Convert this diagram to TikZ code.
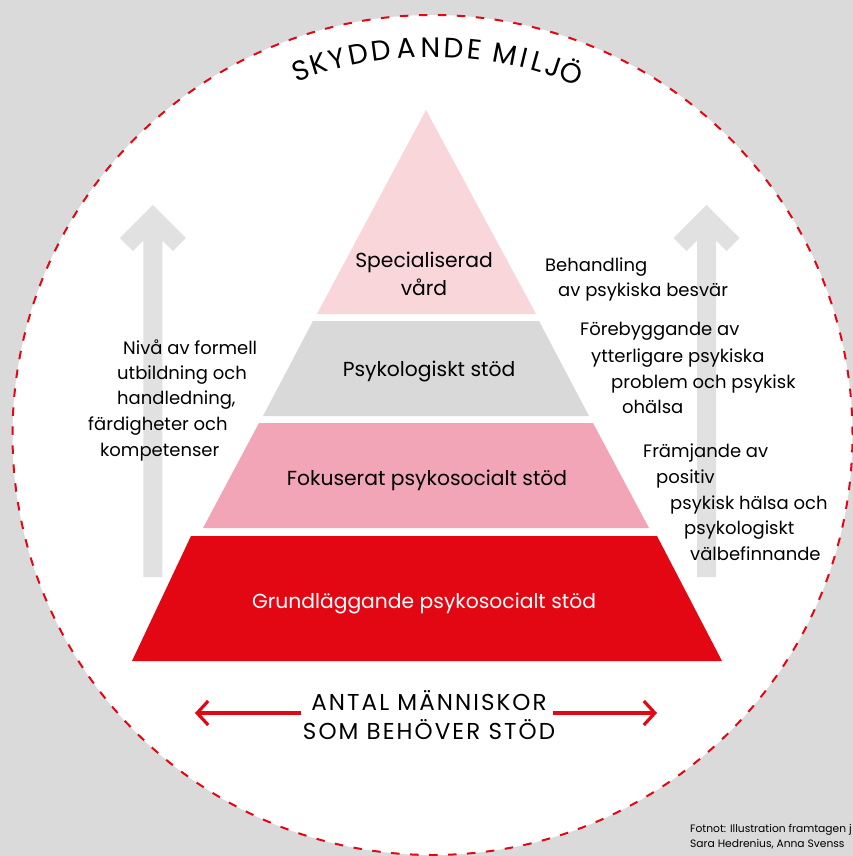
\documentclass[tikz,border=0pt]{standalone}
\usepackage{fontspec}
\setmainfont{Poppins}
\usetikzlibrary{arrows.meta}
\definecolor{bg}{HTML}{DADADA}
\definecolor{rd}{HTML}{E30613}
\definecolor{pkone}{HTML}{F9D6DA}
\definecolor{grlayer}{HTML}{D9D9D9}
\definecolor{pktwo}{HTML}{F2A5B6}
\definecolor{arrgray}{HTML}{E1E1E1}
\newcommand{\fs}[1]{\fontsize{#1}{#1}\selectfont}
\tikzset{
  layerlabel/.style={anchor=base, inner sep=0pt, font=\fs{20.3}},
  sidetext/.style={anchor=base west, inner sep=0pt, font=\fs{18}},
  titleletter/.style={anchor=base, inner sep=0pt, font=\fs{28}},
  redarrow/.style={rd, line width=3.2pt, -{Straight Barb[length=11pt,width=24pt]}},
}
\begin{document}
\begin{tikzpicture}[x=1pt,y=1pt]
\useasboundingbox (0,0) rectangle (853,-856);
\fill[bg] (0,0) rectangle (853,-856);
\coordinate (cc) at (432.5,-435);
\draw[rd, line width=2pt, dash pattern=on 8.5pt off 10.5pt, fill=white] (cc) circle[radius=420];

% gray arrows
\foreach \c in {152.8,706.5}{
  \fill[arrgray] (\c,-205) -- (\c+33,-238) -- (\c+20,-251) -- (\c+9.5,-240.5) -- (\c+9.5,-577)
    -- (\c-9.5,-577) -- (\c-9.5,-240.5) -- (\c-20,-251) -- (\c-33,-238) -- cycle;
}

% pyramid layers
\fill[pkone] (426,-110) -- (536,-314) -- (317,-314) -- cycle;
\fill[grlayer] (313,-321) -- (539,-321) -- (589,-416) -- (263,-416) -- cycle;
\fill[pktwo] (259,-423) -- (593,-423) -- (649,-528) -- (203,-528) -- cycle;
\fill[rd] (191,-536) -- (657,-536) -- (722,-661) -- (132,-661) -- cycle;

% layer labels
\node[layerlabel] (spec1) at (424,-267) {Specialiserad};
\node[layerlabel] (spec2) at (424,-295) {vård};
\node[layerlabel] (psy) at (429,-376) {Psykologiskt stöd};
\node[layerlabel] (fok) at (427,-485) {Fokuserat psykosocialt stöd};
\node[layerlabel, text=white] (grund) at (424,-608) {Grundläggande psykosocialt stöd};

% right texts
\node[sidetext] (ra1) at (545,-271) {Behandling};
\node[sidetext] (ra2) at (558,-296) {av psykiska besvär};
\node[sidetext] (rb1) at (580,-335) {Förebyggande av};
\node[sidetext] (rb2) at (591,-362) {ytterligare psykiska};
\node[sidetext] (rb3) at (611,-388) {problem och psykisk};
\node[sidetext] (rb4) at (622,-413) {ohälsa};
\node[sidetext] (rc1) at (643,-457) {Främjande av};
\node[sidetext] (rc2) at (656,-483) {positiv};
\node[sidetext] (rc3) at (670,-509) {psykisk hälsa och};
\node[sidetext] (rc4) at (684,-534) {psykologiskt};
\node[sidetext] (rc5) at (690,-560) {välbefinnande};

% left texts
\node[sidetext] (l1) at (123,-354) {Nivå av formell};
\node[sidetext] (l2) at (117,-379) {utbildning och};
\node[sidetext] (l3) at (117,-404) {handledning,};
\node[sidetext] (l4) at (88,-430) {färdigheter och};
\node[sidetext] (l5) at (100,-456) {kompetenser};

% bottom label and arrows
\node[align=center, inner sep=0pt, font=\fontsize{23}{29}\selectfont\addfontfeatures{LetterSpace=9}] (antal) at (429,-715) {ANTAL MÄNNISKOR\\SOM BEHÖVER STÖD};
\coordinate (ltip) at (195,-713);
\coordinate (rtip) at (657,-713);
\coordinate (lstart) at (301,-713);
\coordinate (rstart) at (553,-713);
\draw[redarrow] (lstart) -- (ltip);
\draw[redarrow] (rstart) -- (rtip);

% title along arc
\foreach \l/\a in {S/109.9, K/107.0, Y/104.2, D/101.1, D/97.6, A/93.9, N/90.3, D/86.8, E/83.7, M/79.2, I/76.3, L/74.2, J/71.8, Ö/69.0}{
  \path (cc) ++(\a:378) node[titleletter, rotate=\a-90] {\l};
}

% footnote
\node[anchor=base west, inner sep=0pt, font=\fs{10.7}] (fn1) at (690,-832) {Fotnot: Illustration framtagen j};
\node[anchor=base west, inner sep=0pt, font=\fs{10.7}] (fn2) at (690,-847) {Sara Hedrenius, Anna Svenss};
\end{tikzpicture}
\end{document}
